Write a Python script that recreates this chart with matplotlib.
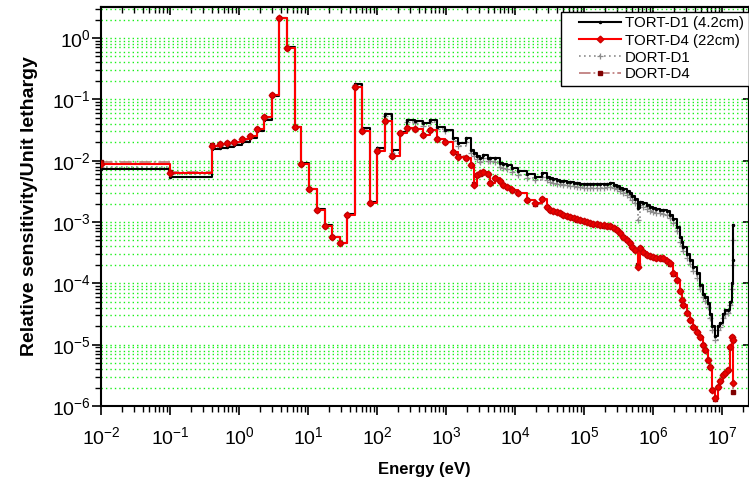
import numpy as np
import matplotlib
matplotlib.use("Agg")
import matplotlib.pyplot as plt
from matplotlib.ticker import LogLocator, FuncFormatter, NullFormatter
from matplotlib.lines import Line2D
from matplotlib.legend_handler import HandlerLine2D

plt.rcParams['font.family'] = ['Liberation Sans', 'DejaVu Sans']
plt.rcParams['mathtext.fontset'] = 'custom'
plt.rcParams['mathtext.rm'] = 'Liberation Sans'
plt.rcParams['mathtext.it'] = 'Liberation Sans'
plt.rcParams['mathtext.bf'] = 'Liberation Sans:bold'

# ---- data (energies and values as log10 exponents) ----
log_energy = [
    -2.0, -1.0, -0.391, -0.275, -0.17, -0.068, 0.048, 0.159, 0.257, 0.367,
    0.478, 0.584, 0.691, 0.807, 0.903, 1.019, 1.13, 1.24, 1.35, 1.464,
    1.57, 1.681, 1.783, 1.893, 2.0, 2.116, 2.22, 2.33, 2.437, 2.55,
    2.66, 2.768, 2.874, 2.98, 3.097, 3.178, 3.29, 3.358, 3.406, 3.445,
    3.493, 3.54, 3.613, 3.64, 3.71, 3.783, 3.83, 3.88, 3.952, 4.048,
    4.17, 4.29, 4.387, 4.46, 4.507, 4.55, 4.604, 4.652, 4.70, 4.75,
    4.797, 4.85, 4.894, 4.942, 5.0, 5.04, 5.087, 5.13, 5.184, 5.232,
    5.29, 5.33, 5.377, 5.43, 5.473, 5.52, 5.57, 5.62, 5.667, 5.70,
    5.739, 5.778, 5.812, 5.86, 5.91, 5.957, 6.005, 6.05, 6.101, 6.15,
    6.2, 6.246, 6.294, 6.343, 6.39, 6.415, 6.44, 6.488, 6.536, 6.584,
    6.633, 6.68, 6.73, 6.754, 6.80, 6.828, 6.86, 6.898, 6.947, 6.97,
    7.02, 7.043, 7.09, 7.115, 7.14, 7.155, 7.165,
]

log_tort_d1 = [
    -2.143, -2.27, -1.81, -1.79, -1.77, -1.745, -1.70, -1.635, -1.515, -1.33,
    -0.94, 0.322, -0.155, -1.445, -2.045, -2.455, -2.795, -3.055, -3.24, -3.34,
    -2.87, -0.745, -1.465, -2.68, -1.79, -1.245, -1.83, -1.53, -1.34, -1.36,
    -1.39, -1.33, -1.45, -1.50, -1.625, -1.717, -1.636, -1.826, -1.88, -1.92,
    -1.962, -1.908, -1.95, -1.955, -1.962, -2.043, -2.06, -2.07, -2.125, -2.168,
    -2.223, -2.26, -2.206, -2.26, -2.28, -2.30, -2.315, -2.325, -2.335, -2.343,
    -2.355, -2.36, -2.37, -2.375, -2.38, -2.38, -2.385, -2.38, -2.38, -2.386,
    -2.38, -2.375, -2.37, -2.39, -2.413, -2.44, -2.467, -2.50, -2.53, -2.58,
    -2.63, -2.777, -2.669, -2.696, -2.73, -2.76, -2.78, -2.79, -2.80, -2.81,
    -2.815, -2.88, -2.95, -3.077, -3.25, -3.32, -3.40, -3.52, -3.62, -3.73,
    -3.837, -4.027, -4.17, -4.22, -4.326, -4.50, -4.70, -4.86, -4.70, -4.652,
    -4.50, -4.435, -4.435, -4.30, -4.0, -3.62, -3.049,
]

log_tort_d4 = [
    -2.056, -2.20, -1.757, -1.734, -1.718, -1.697, -1.653, -1.594, -1.48, -1.294,
    -0.93, 0.321, -0.158, -1.457, -2.055, -2.468, -2.806, -3.067, -3.25, -3.35,
    -2.88, -0.804, -1.512, -2.69, -1.843, -1.35, -1.925, -1.555, -1.473, -1.49,
    -1.58, -1.50, -1.643, -1.69, -1.86, -1.935, -1.962, -2.07, -2.397, -2.234,
    -2.206, -2.18, -2.22, -2.37, -2.288, -2.33, -2.397, -2.43, -2.478, -2.533,
    -2.642, -2.696, -2.63, -2.75, -2.80, -2.82, -2.84, -2.859, -2.88, -2.90,
    -2.913, -2.94, -2.955, -2.968, -2.985, -3.0, -3.01, -3.025, -3.04, -3.05,
    -3.055, -3.06, -3.065, -3.10, -3.13, -3.18, -3.24, -3.30, -3.348, -3.40,
    -3.457, -3.729, -3.43, -3.49, -3.53, -3.55, -3.566, -3.58, -3.59, -3.592,
    -3.63, -3.674, -3.837, -3.946, -4.12, -4.272, -4.35, -4.489, -4.60, -4.707,
    -4.79, -4.87, -5.0, -5.087, -5.25, -5.36, -5.74, -5.875, -5.686, -5.60,
    -5.495, -5.47, -5.413, -5.033, -4.87, -4.924, -5.63,
]

log_dort_d1 = [
    -2.10, -2.22, -1.78, -1.76, -1.74, -1.72, -1.675, -1.61, -1.495, -1.31,
    -0.935, 0.32, -0.157, -1.45, -2.05, -2.46, -2.80, -3.06, -3.245, -3.345,
    -2.875, -0.77, -1.485, -2.685, -1.81, -1.28, -1.87, -1.55, -1.37, -1.39,
    -1.43, -1.37, -1.49, -1.52, -1.68, -1.76, -1.69, -1.88, -1.93, -1.98,
    -2.02, -1.96, -2.01, -2.0, -2.02, -2.10, -2.12, -2.13, -2.18, -2.23,
    -2.28, -2.32, -2.27, -2.32, -2.34, -2.36, -2.375, -2.385, -2.395, -2.40,
    -2.41, -2.42, -2.43, -2.435, -2.44, -2.44, -2.445, -2.44, -2.44, -2.45,
    -2.44, -2.435, -2.43, -2.45, -2.47, -2.50, -2.53, -2.56, -2.59, -2.64,
    -2.69, -2.97, -2.73, -2.76, -2.79, -2.82, -2.84, -2.85, -2.86, -2.87,
    -2.88, -2.94, -3.02, -3.15, -3.32, -3.39, -3.47, -3.59, -3.69, -3.80,
    -3.91, -4.09, -4.23, -4.28, -4.39, -4.56, -4.76, -4.92, -4.76, -4.71,
    -4.56, -4.50, -4.48, -4.36, -4.10, -3.70, -3.30,
]

log_dort_d4 = [
    -2.02, -2.18, -1.75, -1.73, -1.715, -1.695, -1.65, -1.59, -1.48, -1.29,
    -0.93, 0.32, -0.158, -1.457, -2.055, -2.468, -2.806, -3.067, -3.25, -3.35,
    -2.88, -0.80, -1.51, -2.69, -1.84, -1.35, -1.92, -1.555, -1.47, -1.49,
    -1.58, -1.50, -1.64, -1.69, -1.86, -1.93, -1.96, -2.07, -2.38, -2.23,
    -2.21, -2.19, -2.22, -2.36, -2.29, -2.33, -2.40, -2.43, -2.48, -2.53,
    -2.64, -2.70, -2.63, -2.75, -2.80, -2.82, -2.84, -2.86, -2.88, -2.90,
    -2.92, -2.94, -2.96, -2.97, -2.99, -3.0, -3.01, -3.03, -3.04, -3.05,
    -3.06, -3.06, -3.07, -3.10, -3.13, -3.18, -3.24, -3.30, -3.35, -3.40,
    -3.46, -3.70, -3.43, -3.49, -3.53, -3.55, -3.57, -3.58, -3.59, -3.60,
    -3.63, -3.68, -3.84, -3.95, -4.12, -4.27, -4.35, -4.49, -4.60, -4.71,
    -4.79, -4.88, -5.0, -5.09, -5.25, -5.37, -5.74, -5.88, -5.69, -5.60,
    -5.50, -5.47, -5.42, -5.04, -4.88, -4.93, -5.77,
]

series_labels = ["TORT-D1 (4.2cm)", "TORT-D4 (22cm)", "DORT-D1", "DORT-D4"]
x_label = "Energy (eV)"
y_label = "Relative sensitivity/Unit lethargy"

energy = 10.0 ** np.array(log_energy)
tort_d1 = 10.0 ** np.array(log_tort_d1)
tort_d4 = 10.0 ** np.array(log_tort_d4)
dort_d1 = 10.0 ** np.array(log_dort_d1)
dort_d4 = 10.0 ** np.array(log_dort_d4)

# ---- figure ----
W, H = 749, 483
fig = plt.figure(figsize=(W / 100, H / 100), dpi=100)
ax = fig.add_axes([101 / W, 1 - 406 / H, (748.5 - 101) / W, (406 - 7) / H])

h_dd1, = ax.plot(energy, dort_d1, drawstyle='steps-post', color='#8c8c8c', lw=1.2,
                 ls=(0, (1, 2)), marker='+', ms=4, mew=0.9, zorder=3)
h_td1, = ax.plot(energy, tort_d1, drawstyle='steps-post', color='black', lw=1.5,
                 marker='.', ms=3, zorder=4)
h_dd4, = ax.plot(energy, dort_d4, drawstyle='steps-post', color='#c08080', lw=1.3,
                 ls='-.', marker='s', ms=2.5, mfc='#800000', mec='#800000', zorder=5)
h_td4, = ax.plot(energy, tort_d4, drawstyle='steps-post', color='#ff0000', lw=1.5,
                 marker='D', ms=3.4, mfc='#ee0000', mec='#cc0000', zorder=6)

ax.set_xscale('log')
ax.set_yscale('log')
ax.set_xlim(1e-2, 10 ** (-2 + (748.5 - 101) / 69.0))
ax.set_ylim(1e-6, 3.2)

fmt = FuncFormatter(lambda v, p: r'$\mathregular{10^{%d}}$' % int(round(np.log10(v))))
ax.xaxis.set_major_locator(LogLocator(base=10, numticks=20))
ax.xaxis.set_minor_locator(LogLocator(base=10, subs=np.arange(2, 10), numticks=20))
ax.yaxis.set_major_locator(LogLocator(base=10, numticks=20))
ax.yaxis.set_minor_locator(LogLocator(base=10, subs=np.arange(2, 10), numticks=20))
ax.xaxis.set_major_formatter(fmt)
ax.yaxis.set_major_formatter(fmt)
ax.xaxis.set_minor_formatter(NullFormatter())
ax.yaxis.set_minor_formatter(NullFormatter())

ax.tick_params(axis='both', which='major', direction='out', length=6.5, width=1.2,
               labelsize=14, top=False, right=False)
ax.tick_params(axis='both', which='minor', direction='out', length=4, width=1.0,
               top=False, right=False)
ax.tick_params(axis='x', which='major', pad=8)
ax.tick_params(axis='y', which='major', pad=1)

# inward ticks on top and right
secx = ax.secondary_xaxis('top')
secx.set_xscale('log')
secx.xaxis.set_major_locator(LogLocator(base=10, numticks=20))
secx.xaxis.set_minor_locator(LogLocator(base=10, subs=np.arange(2, 10), numticks=20))
secx.tick_params(which='major', direction='in', length=6, width=1.2, labeltop=False)
secx.tick_params(which='minor', direction='in', length=4, width=1.0, labeltop=False)
secy = ax.secondary_yaxis('right')
secy.set_yscale('log')
secy.yaxis.set_major_locator(LogLocator(base=10, numticks=20))
secy.yaxis.set_minor_locator(LogLocator(base=10, subs=[], numticks=20))
secy.tick_params(which='major', direction='in', length=4, width=1.2, labelright=False)
secy.tick_params(which='minor', length=0)

for s in ax.spines.values():
    s.set_linewidth(1.5)
secx.spines['top'].set_linewidth(1.5)
secy.spines['right'].set_linewidth(1.5)

ax.grid(True, which='both', axis='y', color='#00ee00', linestyle=(0, (1, 2.2)),
        linewidth=1.0, alpha=0.9)
ax.set_axisbelow(True)

ax.set_xlabel(x_label, fontsize=12, fontweight='bold', labelpad=10)
ax.set_ylabel(y_label, fontsize=14, fontweight='bold', labelpad=10)

fs_leg = 10.8
leg = ax.legend([h_td1, h_td4, h_dd1, h_dd4], series_labels, loc='upper right',
                bbox_to_anchor=(1.0, 1 - 5 / 399), borderaxespad=0, fontsize=fs_leg,
                frameon=True, fancybox=False, framealpha=1, edgecolor='black',
                handlelength=3.7, labelspacing=0.2, borderpad=0.3,
                handletextpad=0.25,
                handler_map={Line2D: HandlerLine2D(xpad=0.85)})
leg.get_frame().set_linewidth(1.0)
leg.set_zorder(10)

fig.savefig('out.png', dpi=100)
